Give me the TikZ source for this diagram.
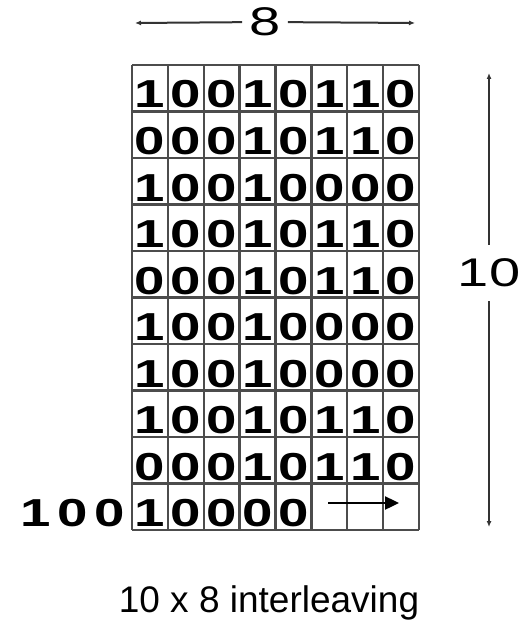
\documentclass[tikz,border=0pt]{standalone}
\usepackage{fontspec}
\setmainfont{Liberation Sans}
\newfontfamily\widefont[FakeStretch=1.4]{Liberation Sans}
\usetikzlibrary{arrows.meta,positioning}

\begin{document}
\begin{tikzpicture}[
    x=1pt, y=-1pt,
    bit/.style={anchor=base, inner sep=0pt, font=\widefont\bfseries\fontsize{39}{42}\selectfont},
    gridline/.style={draw=black!70, line width=2.4pt},
    dimlabel/.style={font=\widefont\fontsize{40}{42}\selectfont, inner xsep=7pt, inner ysep=14pt},
    dim/.style={-{Latex[length=6pt,width=5pt]}, line width=2pt, draw=black!80},
    shiftarrow/.style={-{Triangle[length=14pt,width=13pt]}, line width=2.4pt},
    caption/.style={anchor=base, font=\fontsize{37}{40}\selectfont}
    ]
    \useasboundingbox (0,0) rectangle (529,620);
    \foreach \k in {0,...,8}
      \draw[gridline] (132+\k*35.875,65) -- (132+\k*35.875,530);
    \foreach \k in {0,...,10}
      \draw[gridline] (132,65+\k*46.5) -- (419,65+\k*46.5);
    \foreach \r/\bits in {1/{1,0,0,1,0,1,1,0},2/{0,0,0,1,0,1,1,0},3/{1,0,0,1,0,0,0,0},
                          4/{1,0,0,1,0,1,1,0},5/{0,0,0,1,0,1,1,0},6/{1,0,0,1,0,0,0,0},
                          7/{1,0,0,1,0,0,0,0},8/{1,0,0,1,0,1,1,0},9/{0,0,0,1,0,1,1,0},
                          10/{1,0,0,0,0}}
      \foreach \b [count=\c] in \bits
        \node[bit] (b\r-\c) at (132+\c*35.875-17.94,65+\r*46.5-3.5) {\b};
    \node[bit] (out1) at (36,526) {1};
    \node[bit] (out2) at (73,526) {0};
    \node[bit] (out3) at (110,526) {0};
    \coordinate (shiftL) at (328,503);
    \coordinate (shiftR) at (399,503);
    \draw[shiftarrow] (shiftL) -- (shiftR);
    \node[dimlabel] (cols) at (265,22) {8};
    \coordinate (colsL) at (135,23);
    \coordinate (colsR) at (415,23);
    \draw[dim] (cols) -- (colsL);
    \draw[dim] (cols) -- (colsR);
    \node[dimlabel] (rows) at (489,273) {10};
    \coordinate (rowsT) at (489,73);
    \coordinate (rowsB) at (489,527);
    \draw[dim] (rows) -- (rowsT);
    \draw[dim] (rows) -- (rowsB);
    \node[caption] (title) at (269,612) {10 x 8 interleaving};
\end{tikzpicture}
\end{document}
